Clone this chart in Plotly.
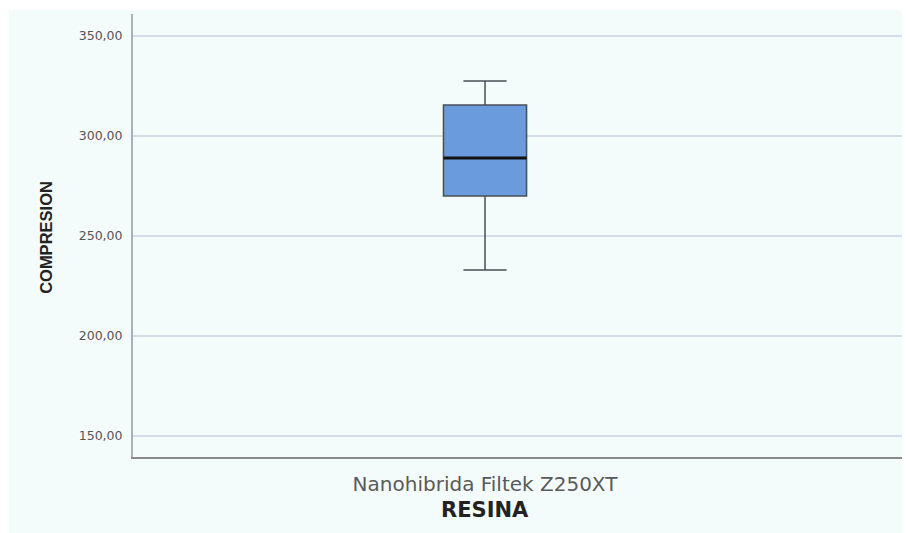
import plotly.graph_objects as go

categories = ["Nanohibrida Filtek Z250XT"]
lower_whisker = [233.0]
q1_vals = [270.0]
median_vals = [289.0]
q3_vals = [315.5]
upper_whisker = [327.5]
y_ticks = [150, 200, 250, 300, 350]
y_tick_labels = ["150,00", "200,00", "250,00", "300,00", "350,00"]

box_w = 0.118
xpos = list(range(len(categories)))

fig = go.Figure()
fig.add_trace(go.Box(
    x=xpos, q1=q1_vals, median=median_vals, q3=q3_vals,
    lowerfence=lower_whisker, upperfence=upper_whisker,
    width=box_w, whiskerwidth=0.52,
    fillcolor="#6A9BDC", line=dict(color="#4a4f55", width=1.5),
    boxpoints=False, hoverinfo="skip", showlegend=False,
))

shapes = [
    dict(type="rect", xref="paper", yref="paper", x0=-0.158, x1=1.05,
         y0=-0.2, y1=1.009, fillcolor="#F4FBFB", line=dict(width=0), layer="below"),
]
for xi, m in zip(xpos, median_vals):
    shapes.append(dict(type="line", xref="x", yref="y", x0=xi - box_w / 2, x1=xi + box_w / 2,
                       y0=m, y1=m, line=dict(color="#111111", width=3), layer="above"))

fig.update_layout(
    width=910, height=525,
    margin=dict(l=125, r=0, t=6, b=76),
    paper_bgcolor="white", plot_bgcolor="rgba(0,0,0,0)",
    shapes=shapes,
    font=dict(family="DejaVu Sans, sans-serif", color="#555555"),
    xaxis=dict(range=[-0.5, 0.615], tickvals=xpos, ticktext=categories,
               tickfont=dict(family="DejaVu Sans, sans-serif", size=20, color="#5a5a5a"),
               showgrid=False, zeroline=False,
               showline=True, linecolor="#8a8a8a", linewidth=2, ticks="", ticklabelstandoff=8),
    yaxis=dict(range=[139.5, 361], tickvals=y_ticks, ticktext=y_tick_labels,
               tickfont=dict(family="DejaVu Sans, sans-serif", size=12.5, color="#555555"),
               showgrid=True, gridcolor="#D6DDE8",
               gridwidth=2, zeroline=False, showline=True, linecolor="#A8B0BC", linewidth=2,
               ticks="", ticklabelstandoff=6),
    annotations=[
        dict(text="<b>COMPRESION</b>", xref="paper", yref="paper", x=-0.111, y=0.4966,
             textangle=-90, showarrow=False, xanchor="center", yanchor="middle",
             font=dict(family="Liberation Sans Narrow, Arial Narrow, Liberation Sans, sans-serif",
                       size=16.5, color="#222222")),
        dict(text="<b>RESINA</b>", xref="x", yref="paper", x=0, y=-0.1196,
             showarrow=False, xanchor="center", yanchor="middle",
             font=dict(family="DejaVu Sans, sans-serif", size=21, color="#222222")),
    ],
)

fig.write_html("out.html")
